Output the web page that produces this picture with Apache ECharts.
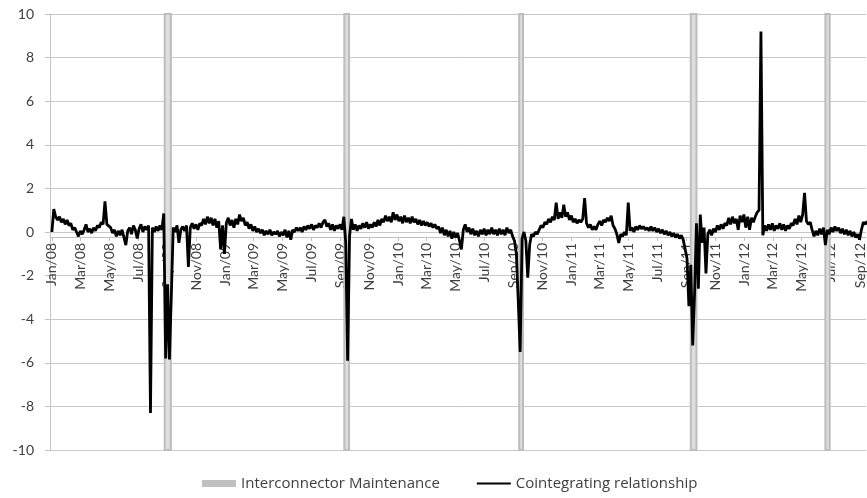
<!DOCTYPE html>
<html>
<head>
<meta charset="utf-8">
<script src="https://cdn.jsdelivr.net/npm/echarts@6/dist/echarts.min.js"></script>
<style>
html,body{margin:0;padding:0;background:#fff;}
#c{width:867px;height:498px;}
</style>
</head>
<body>
<div id="c"></div>
<script>
// ---- data ----
const seriesStart = '2008-01-01';
const stepDays = 4;
const cointegration = [
 0.0,1.05,0.7,0.55,0.7,0.45,0.6,0.35,0.55,0.3,
 0.4,0.1,0.2,0.0,-0.2,0.05,-0.1,0.1,0.35,0.0,
 0.15,-0.05,0.2,0.05,0.3,0.2,0.45,0.35,1.4,0.35,
 0.3,0.2,-0.05,0.1,-0.2,0.05,-0.15,0.1,-0.25,-0.6,
 0.05,0.2,-0.1,0.3,0.1,-0.3,0.15,0.35,0.0,0.25,
 0.1,0.3,-8.3,0.2,0.0,0.25,0.05,0.3,0.1,0.85,
 -5.8,-2.4,-5.85,-2.9,0.2,0.0,0.3,-0.5,0.1,0.25,
 0.05,0.3,-1.6,0.2,0.4,0.15,0.35,0.1,0.4,0.3,
 0.6,0.35,0.7,0.4,0.65,0.3,0.6,0.2,0.5,-0.8,
 0.3,-1.0,0.4,0.65,0.3,0.55,0.2,0.6,0.35,0.8,
 0.5,0.65,0.3,0.45,0.15,0.35,0.05,0.25,0.0,0.15,
 -0.05,0.1,-0.15,0.05,-0.1,0.1,-0.15,0.0,-0.1,0.05,
 -0.2,0.0,-0.15,0.1,-0.25,0.05,-0.35,0.1,0.0,0.2,
 0.05,0.2,0.0,0.25,0.1,0.3,0.15,0.35,0.1,0.3,
 0.2,0.4,0.2,0.45,0.55,0.25,0.4,0.1,0.35,0.05,
 0.3,0.15,0.35,0.1,0.7,-0.5,-5.9,-0.2,0.6,0.1,
 0.35,0.05,0.3,0.15,0.4,0.2,0.45,0.15,0.35,0.2,
 0.45,0.25,0.55,0.3,0.6,0.45,0.75,0.5,0.7,0.45,
 0.9,0.55,0.8,0.5,0.7,0.4,0.75,0.45,0.65,0.4,
 0.7,0.45,0.6,0.35,0.55,0.3,0.5,0.3,0.45,0.25,
 0.4,0.2,0.35,0.15,0.25,-0.05,0.2,-0.15,0.1,-0.2,
 0.05,-0.3,0.0,-0.25,-0.05,-0.4,-0.8,0.1,0.35,0.0,
 0.2,-0.1,0.15,-0.15,0.05,-0.2,0.1,-0.1,0.15,-0.15,
 0.1,-0.1,0.2,-0.1,0.1,-0.15,0.15,-0.1,0.1,-0.15,
 0.2,-0.05,0.1,-0.2,-0.4,-1.0,-3.2,-5.5,-0.3,0.0,
 -0.4,-2.1,-0.6,-0.1,-0.2,0.0,-0.1,0.1,0.3,0.2,
 0.45,0.35,0.6,0.45,0.7,0.55,1.35,0.6,0.9,0.65,
 1.25,0.7,0.9,0.55,0.75,0.45,0.6,0.4,0.55,0.45,
 0.6,1.55,0.4,0.2,0.35,0.1,0.25,0.1,0.35,0.5,
 0.3,0.55,0.45,0.65,0.5,0.75,0.3,0.15,-0.1,-0.5,
 -0.1,-0.2,0.0,-0.15,1.35,0.05,0.2,0.0,0.25,0.1,
 0.3,0.15,0.25,0.1,0.2,0.05,0.25,0.05,0.2,0.0,
 0.15,-0.05,0.1,-0.1,0.05,-0.15,0.0,-0.2,-0.05,-0.25,
 -0.1,-0.3,-0.15,-0.35,-0.3,-1.2,-3.4,-1.5,-5.2,-2.8,
 0.4,-2.6,0.8,-0.5,0.2,-1.9,-0.1,0.1,-0.15,0.15,
 0.0,0.3,0.1,0.35,0.15,0.4,0.3,0.65,0.35,0.7,
 0.4,0.6,0.1,0.75,0.45,0.8,0.2,0.7,0.1,0.65,
 0.45,0.7,0.9,1.0,9.2,-0.15,0.3,0.05,0.35,0.1,
 0.4,0.05,0.3,0.15,0.4,0.1,0.35,0.05,0.3,0.15,
 0.4,0.3,0.6,0.35,0.75,0.45,0.8,1.8,0.5,0.35,
 0.45,0.1,-0.2,0.05,-0.15,0.15,-0.1,0.2,-0.6,0.1,
 -0.1,0.2,0.0,0.25,0.05,0.2,-0.05,0.15,-0.1,0.1,
 -0.15,0.05,-0.2,0.0,-0.25,-0.1,-0.35,0.1,0.45,0.35,
 0.5
];
const maintStart = ['2008-08-26','2009-09-09','2010-09-13','2011-09-10','2012-06-20'];
const maintEnd   = ['2008-09-08','2009-09-19','2010-09-21','2011-09-22','2012-06-29'];
const tickDates = ['2008-01-01','2008-03-01','2008-05-01','2008-07-01','2008-09-01','2008-11-01',
 '2009-01-01','2009-03-01','2009-05-01','2009-07-01','2009-09-01','2009-11-01',
 '2010-01-01','2010-03-01','2010-05-01','2010-07-01','2010-09-01','2010-11-01',
 '2011-01-01','2011-03-01','2011-05-01','2011-07-01','2011-09-01','2011-11-01',
 '2012-01-01','2012-03-01','2012-05-01','2012-07-01','2012-09-01'];
const tickLabels = ['Jan/08','Mar/08','May/08','Jul/08','Sep/08','Nov/08',
 'Jan/09','Mar/09','May/09','Jul/09','Sep/09','Nov/09',
 'Jan/10','Mar/10','May/10','Jul/10','Sep/10','Nov/10',
 'Jan/11','Mar/11','May/11','Jul/11','Sep/11','Nov/11',
 'Jan/12','Mar/12','May/12','Jul/12','Sep/12'];
const yMin = -10, yMax = 10, yStep = 2;

// ---- helpers ----
function dayOf(s){
  const p = s.split('-').map(Number);
  return Math.round((Date.UTC(p[0],p[1]-1,p[2]) - Date.UTC(2008,0,1))/86400000);
}
const startDay = dayOf(seriesStart);
const lineData = cointegration.map((v,i)=>[startDay + i*stepDays, v]);
const tickDays = tickDates.map(dayOf);
const labelMap = {};
tickDays.forEach((d,i)=>{labelMap[d]=tickLabels[i];});
const areas = maintStart.map((s,i)=>[{xAxis: dayOf(s)},{xAxis: dayOf(maintEnd[i])}]);

const FONT = 'Lato, "Open Sans", sans-serif';
const TXT = '#404040';

const chart = echarts.init(document.getElementById('c'), null, {renderer:'canvas'});
const option = {
  animation:false,
  backgroundColor:'#ffffff',
  grid:{left:50, right:0, top:14, bottom:48, containLabel:false},
  legend:{
    bottom:2, left:197, itemGap:36, itemWidth:34, itemHeight:7,
    textStyle:{fontFamily:'"Open Sans", Lato, sans-serif', fontSize:15, color:TXT},
    data:[
      {name:'Interconnector Maintenance', icon:'rect'},
      {name:'Cointegrating relationship', itemStyle:{color:'rgba(0,0,0,0)', borderWidth:0}}
    ]
  },
  xAxis:{
    type:'value', min:-4, max:1718, offset:0,
    axisLine:{show:true, onZero:false, lineStyle:{color:'#bfbfbf', width:1}},
    axisTick:{show:true, length:4, customValues:tickDays, lineStyle:{color:'#bfbfbf'}},
    axisLabel:{
      customValues:tickDays, rotate:90, margin:6, fontFamily:FONT, fontSize:14, color:TXT,
      hideOverlap:false,
      formatter:(v)=>labelMap[v] || ''
    },
    splitLine:{show:false}
  },
  yAxis:{
    type:'value', min:yMin, max:yMax, interval:yStep,
    axisLine:{show:true, onZero:false, lineStyle:{color:'#c4c4c4'}},
    axisTick:{show:true, length:5, lineStyle:{color:'#c4c4c4'}},
    axisLabel:{margin:16, fontFamily:FONT, fontSize:14, color:TXT},
    splitLine:{lineStyle:{color:'#c8c8c8', width:1}}
  },
  series:[
    {
      name:'Interconnector Maintenance', type:'line', data:[], symbol:'none',
      itemStyle:{color:'#c0c0c0'}, lineStyle:{color:'#c0c0c0'},
      markArea:{
        silent:true,
        itemStyle:{color:'#dedede', borderColor:'#bdbdbd', borderWidth:2},
        data:areas
      },
      z:1
    },
    {
      name:'Cointegrating relationship', type:'line', data:lineData,
      symbol:'none', showSymbol:false,
      itemStyle:{color:'#000000'},
      lineStyle:{color:'#000000', width:2.8},
      z:3
    }
  ]
};
chart.setOption(option);
// place the date axis on the zero line, using the y scale
const yZero = chart.convertToPixel({yAxisIndex:0}, 0);
const yBottom = chart.convertToPixel({yAxisIndex:0}, yMin);
chart.setOption({xAxis:{offset: yZero - yBottom}});
</script>
</body>
</html>
